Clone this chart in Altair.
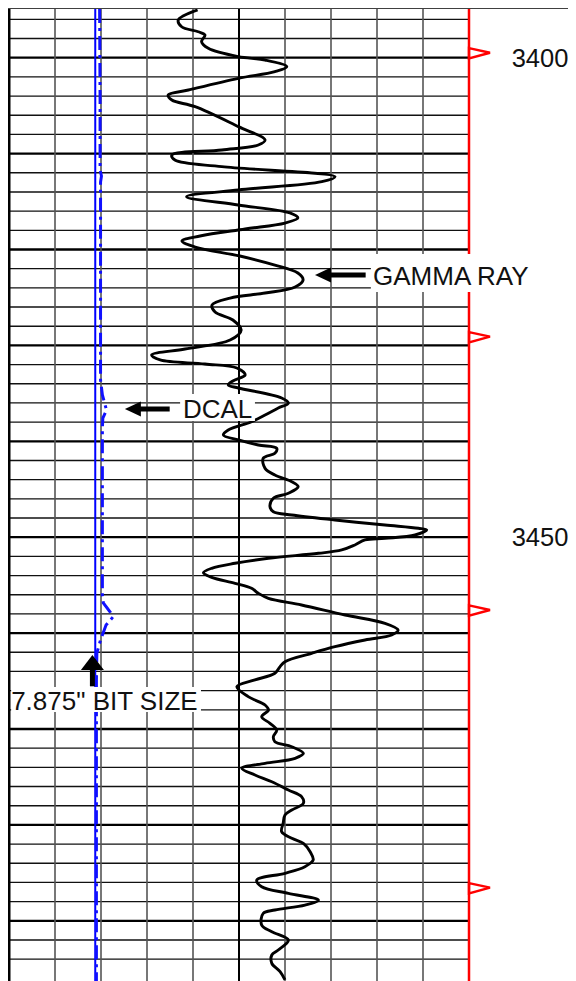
import altair as alt
import pandas as pd

DEPTH_TOP, DEPTH_BOTTOM = 3394.92, 3496.28
GR_MIN, GR_MAX = 0, 150          # API, track scale
CAL_MIN, CAL_MAX = 6, 16         # inches, caliper scale

gr_depth = [3395.02, 3396.07, 3396.77, 3397.29, 3397.63, 3398.33, 3399.02, 3399.89, 3400.24, 3400.94,
            3401.46, 3402.15, 3403.37, 3403.89, 3404.41, 3405.11, 3407.19, 3408.58, 3409.10, 3409.62,
            3410.15, 3410.67, 3411.36, 3412.41, 3412.93, 3413.79, 3414.49,
            3415.36, 3416.19, 3416.71, 3417.24, 3417.86, 3418.59, 3419.11, 3419.74, 3420.68, 3421.62,
            3422.45, 3423.18, 3423.91, 3424.54, 3425.06, 3425.79, 3426.52, 3427.35, 3428.40, 3429.44,
            3430.38, 3431.00, 3431.52, 3431.94, 3432.36, 3433.09, 3433.71,
            3434.13, 3434.44, 3435.48, 3436.01, 3436.53, 3437.26, 3437.96, 3438.82, 3439.34, 3439.86,
            3440.39, 3440.73, 3441.25, 3441.77, 3442.82, 3443.52, 3444.21, 3444.73, 3445.42, 3445.94,
            3446.82, 3447.34, 3447.69, 3448.21, 3448.73, 3449.07, 3449.25, 3449.77, 3450.12, 3450.29,
            3450.81, 3451.33, 3451.68, 3452.20, 3452.72, 3453.24, 3453.70, 3454.18, 3454.81, 3455.33,
            3455.85, 3456.37, 3457.07, 3458.11, 3458.98, 3459.68, 3460.20, 3460.72, 3461.42, 3462.11,
            3462.98, 3463.50, 3464.19, 3464.89,
            3465.59, 3466.63, 3467.50, 3468.02, 3468.72, 3469.41, 3470.11, 3470.81, 3471.33, 3471.85,
            3472.54, 3473.06, 3473.58, 3474.10, 3474.80, 3475.50, 3476.36, 3477.06, 3477.75, 3478.45,
            3478.97, 3479.84, 3480.71, 3481.40, 3481.92, 3482.80, 3483.66, 3484.36, 3485.05, 3485.75,
            3486.45, 3487.14, 3487.84, 3488.36, 3488.88, 3489.23, 3490.45, 3491.15, 3492.01, 3493.05,
            3493.57, 3494.44, 3495.31, 3496.17]
gr_api = [61.5, 55.2, 56.3, 61.7, 63.9, 62.8, 65.0, 74.8, 83.5, 90.6,
          86.7, 74.8, 58.5, 51.9, 53.1, 60.7, 74.8, 83.5, 81.3, 69.4,
          53.1, 54.1, 69.4, 106.3, 102.0, 74.8, 57.9,
          74.7, 91.6, 94.2, 90.0, 77.0, 62.3, 56.4, 60.7, 75.3, 86.7,
          94.2, 95.9, 93.3, 83.5, 72.1, 66.2, 67.2, 73.0, 75.7, 72.1,
          57.4, 46.5, 49.3, 63.9, 74.3, 77.0, 73.0,
          71.5, 74.8, 88.9, 91.1, 87.8, 83.5, 79.1, 71.5, 69.9, 74.8,
          81.3, 87.3, 86.7, 82.9, 83.5, 86.7, 92.2, 94.3, 91.1, 86.2,
          85.1, 86.2, 92.2, 106.3, 122.6, 133.5, 136.2, 132.4, 122.6, 116.1,
          112.8, 108.5, 100.9, 84.6, 73.7, 66.1, 63.4, 66.1, 73.7, 79.1,
          81.3, 84.6, 95.4, 109.6, 122.6, 126.9, 124.8, 116.1, 106.3, 98.7,
          90.0, 88.4, 86.7, 80.2,
          74.3, 78.0, 83.5, 84.6, 82.4, 85.1, 87.3, 86.2, 86.7, 92.2,
          96.0, 93.3, 83.5, 75.9, 80.2, 85.7, 91.1, 95.4, 96.0, 92.2,
          90.0, 89.4, 88.9, 92.2, 96.0, 98.2, 99.2, 96.5, 90.0, 80.8,
          82.4, 91.1, 100.9, 96.5, 86.7, 82.9, 82.4, 85.7, 91.1, 87.8,
          85.7, 85.7, 88.4, 90.0]

dcal_depth = [3394.92, 3404.41, 3411.71, 3412.33, 3412.96, 3433.61, 3435.17, 3436.74, 3437.57, 3438.62,
              3456.03, 3456.86, 3457.80, 3458.32, 3459.16, 3460.72, 3462.08, 3464.89, 3496.28]
dcal_in = [7.97, 7.98, 7.98, 8.01, 7.99, 7.99, 8.03, 8.12, 8.04, 8.03,
           8.03, 8.05, 8.20, 8.26, 8.11, 7.99, 7.91, 7.90, 7.90]

bit_size = 7.875
flag_depths = [3399.48, 3429.09, 3457.59, 3486.55]
depth_labels = [3400, 3450]

grid_depths = list(range(3396, 3496, 2))
grid_gr = [15, 30, 45, 60, 90, 105, 120, 135]

# annotations (positions in track units)
ann_text = ["GAMMA RAY", "DCAL", "7.875\" BIT SIZE"]
ann_x = [118.7, 56.7, 0.7]
ann_depth = [3423.70, 3437.57, 3468.02]
box_x = [118.0, 55.8, 0.7]
box_x2 = [171.5, 80.2, 62.6]
box_d = [3420.47, 3435.07, 3465.62]
box_d2 = [3424.43, 3437.88, 3468.23]

# ---------------- chart ----------------
W, H = 460, 972
XS = alt.Scale(domain=[GR_MIN, GR_MAX], nice=False, zero=False)
CS = alt.Scale(domain=[CAL_MIN, CAL_MAX], nice=False, zero=False)
YS = alt.Scale(domain=[DEPTH_TOP, DEPTH_BOTTOM], reverse=True, nice=False, zero=False)
FONT = "Liberation Sans"

def Y(f="depth"):
    return alt.Y(f"{f}:Q", scale=YS, axis=None)

gr_df = pd.DataFrame({"depth": gr_depth, "gr": gr_api, "i": range(len(gr_api))})
dc_df = pd.DataFrame({"depth": dcal_depth, "cal": dcal_in, "i": range(len(dcal_in))})
hg = pd.DataFrame({"depth": grid_depths, "major": [d % 10 == 0 for d in grid_depths]})
vg = pd.DataFrame({"gr": grid_gr})

h_thin = alt.Chart(hg[~hg.major]).mark_rule(color="#111111", strokeWidth=1.35).encode(y=Y())
h_thick = alt.Chart(hg[hg.major]).mark_rule(color="black", strokeWidth=2.3).encode(y=Y())
v_thin = alt.Chart(vg).mark_rule(color="#555555", strokeWidth=1.6).encode(
    x=alt.X("gr:Q", scale=XS, axis=None))
v_mid = alt.Chart(pd.DataFrame({"gr": [75]})).mark_rule(color="black", strokeWidth=2).encode(
    x=alt.X("gr:Q", scale=XS, axis=None))
v_left = alt.Chart(pd.DataFrame({"gr": [GR_MIN]})).mark_rule(color="black", strokeWidth=3).encode(
    x=alt.X("gr:Q", scale=XS, axis=None))
v_right = alt.Chart(pd.DataFrame({"gr": [GR_MAX]})).mark_rule(color="#ff0000", strokeWidth=2.5).encode(
    x=alt.X("gr:Q", scale=XS, axis=None))
header = alt.Chart(pd.DataFrame({"a": [0]})).mark_rule(color="black", strokeWidth=2).encode(
    x=alt.value(-2), x2=alt.value(600), y=alt.value(-1.2))

bit = alt.Chart(pd.DataFrame({"cal": [bit_size]})).mark_rule(color="#0000ff", strokeWidth=2).encode(
    x=alt.X("cal:Q", scale=CS, axis=None))
dcal = alt.Chart(dc_df).mark_line(color="#1010ff", strokeWidth=3, strokeDash=[14, 5, 3, 5],
                                  clip=True).encode(
    x=alt.X("cal:Q", scale=CS, axis=None), y=Y(), order="i:Q")
gr = alt.Chart(gr_df).mark_line(color="black", strokeWidth=2.9, interpolate="catmull-rom",
                                clip=True).encode(
    x=alt.X("gr:Q", scale=XS, axis=None), y=Y(), order="i:Q")

flags = alt.Chart(pd.DataFrame({"depth": flag_depths, "gr": [GR_MAX] * 4})).mark_point(
    shape="M0,-0.22L1,0L0,0.27Z", size=1764, filled=False, stroke="#ff0000", strokeWidth=2.4,
    opacity=1).encode(x=alt.X("gr:Q", scale=XS, axis=None), y=Y())

lab_df = pd.DataFrame({"depth": depth_labels, "t": [str(d) for d in depth_labels],
                       "gr": [163.9] * len(depth_labels)})
labels = alt.Chart(lab_df).mark_text(align="left", baseline="alphabetic", dy=9.2, font=FONT,
                                     fontSize=25.5, color="#111111").encode(
    x=alt.X("gr:Q", scale=XS, axis=None), y=Y(), text="t:N")

box_df = pd.DataFrame({"x": box_x, "x2": box_x2, "depth": box_d, "d2": box_d2})
boxes = alt.Chart(box_df).mark_rect(color="white").encode(
    x=alt.X("x:Q", scale=XS, axis=None), x2="x2:Q", y=Y(), y2="d2:Q")
ann_df = pd.DataFrame({"x": ann_x, "depth": ann_depth, "t": ann_text})
ann = alt.Chart(ann_df).mark_text(align="left", baseline="alphabetic", font=FONT, fontSize=26,
                                  color="#111111").encode(
    x=alt.X("x:Q", scale=XS, axis=None), y=Y(), text="t:N")

# arrows: heads and shafts
heads_left = pd.DataFrame({"x": [102.4, 40.4], "depth": [3422.66, 3436.63]})
arrow_heads_l = alt.Chart(heads_left).mark_point(
    shape="M-1,0L1,-0.95L1,0.95Z", size=256, filled=True, color="black", opacity=1).encode(
    x=alt.X("x:Q", scale=XS, axis=None), y=Y())
shafts_h = pd.DataFrame({"x": [103.5, 41.1], "x2": [116.3, 52.4], "depth": [3422.66, 3436.63]})
arrow_sh = alt.Chart(shafts_h).mark_rule(color="black", strokeWidth=5).encode(
    x=alt.X("x:Q", scale=XS, axis=None), x2="x2:Q", y=Y())
head_up = alt.Chart(pd.DataFrame({"x": [27.2], "depth": [3463.07]})).mark_point(
    shape="M0,-0.65L1,0.65L-1,0.65Z", size=529, filled=True, color="black", opacity=1).encode(
    x=alt.X("x:Q", scale=XS, axis=None), y=Y())
shaft_up = alt.Chart(pd.DataFrame({"x": [27.2], "depth": [3463.64], "d2": [3465.55]})).mark_rule(
    color="black", strokeWidth=5).encode(x=alt.X("x:Q", scale=XS, axis=None), y=Y(), y2="d2:Q")

chart = alt.layer(
    h_thin, h_thick, v_thin, v_mid, bit, v_left, v_right, header,
    dcal, gr, flags, boxes, ann, labels, arrow_sh, arrow_heads_l, shaft_up, head_up
).resolve_scale(x="independent").properties(
    width=W, height=H,
    padding={"left": 1, "top": 1, "right": 99, "bottom": 0},
    autosize=alt.AutoSizeParams(type="none"),
    background="white",
).configure_view(stroke=None)

chart.save("out.html", embed_options={"renderer": "svg", "actions": False})
